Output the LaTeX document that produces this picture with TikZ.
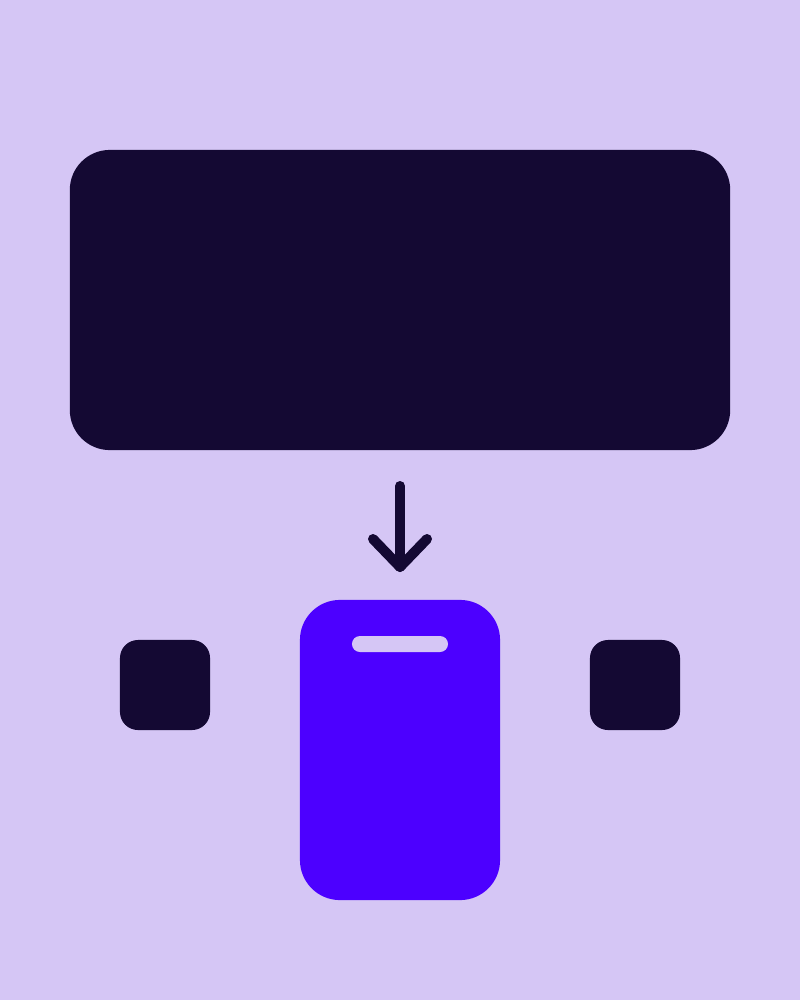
\documentclass[tikz,border=0pt]{standalone}
\usepackage{tikz}
\usetikzlibrary{positioning}

\definecolor{bgLilac}{HTML}{D5C6F5}
\definecolor{inkDark}{HTML}{140933}
\definecolor{phoneBlue}{HTML}{4C00FF}

\begin{document}
\begin{tikzpicture}[x=0.01cm, y=-0.01cm,
    darkbox/.style={fill=inkDark, draw=none, inner sep=0pt},
    arrowline/.style={draw=inkDark, line width=0.1cm, line cap=round, line join=round}]

% Background
\fill[bgLilac] (0,0) rectangle (800,1000);
\useasboundingbox (0,0) rectangle (800,1000);

% Screen
\node[darkbox, rounded corners=0.4cm, minimum width=6.6cm, minimum height=3cm] (screen) at (400,300) {};

% Arrow
\coordinate (arrowtop) at (400,486);
\coordinate (arrowtip) at (400,567);
\draw[arrowline] (arrowtop) -- (arrowtip);
\draw[arrowline] ([shift={(-27,-28)}]arrowtip) -- (arrowtip) -- ([shift={(27,-28)}]arrowtip);

% Phone
\node[fill=phoneBlue, inner sep=0pt, rounded corners=0.4cm, minimum width=2cm, minimum height=3cm] (phone) at (400,750) {};
\node[fill=bgLilac, inner sep=0pt, rounded corners=0.08cm, minimum width=0.96cm, minimum height=0.16cm] (slot) at (400,644) {};

% Side keys
\foreach \name/\x in {keyleft/165, keyright/635} {
    \node[darkbox, rounded corners=0.18cm, minimum width=0.9cm, minimum height=0.9cm] (\name) at (\x,685) {};
}

\end{tikzpicture}
\end{document}
